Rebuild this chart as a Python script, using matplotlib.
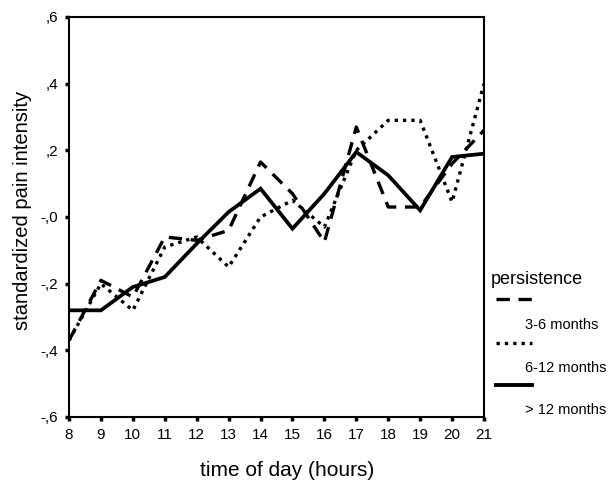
import matplotlib
matplotlib.use("Agg")
import matplotlib.pyplot as plt
from matplotlib.lines import Line2D

plt.rcParams['font.family'] = ['Liberation Sans', 'DejaVu Sans']

hours = [8, 9, 10, 11, 12, 13, 14, 15, 16, 17, 18, 19, 20, 21]
months_3_6 = [-0.37, -0.19, -0.24, -0.06, -0.07, -0.04, 0.165, 0.07, -0.075, 0.27, 0.03, 0.03, 0.16, 0.26]
months_6_12 = [-0.37, -0.20, -0.28, -0.09, -0.06, -0.15, 0.0, 0.05, -0.03, 0.20, 0.29, 0.29, 0.045, 0.40]
months_12p = [-0.28, -0.28, -0.21, -0.18, -0.08, 0.015, 0.085, -0.035, 0.07, 0.195, 0.125, 0.02, 0.18, 0.19]

series_labels = ["3-6 months", "6-12 months", "> 12 months"]
y_ticks = [-0.6, -0.4, -0.2, 0.0, 0.2, 0.4, 0.6]
y_tick_labels = ["-,6", "-,4", "-,2", "-,0", ",2", ",4", ",6"]

W, H = 608, 487
fig = plt.figure(figsize=(W / 100, H / 100), dpi=100)
ax = fig.add_axes([69 / W, 1 - 417 / H, (484 - 69) / W, (417 - 17) / H])

dash_style = (0, (4, 2.6))
dot_style = (0, (1, 1.5))
lw = 2.4

ax.plot(hours, months_3_6, color='black', lw=lw, linestyle=dash_style, solid_capstyle='butt', dash_capstyle='butt')
ax.plot(hours, months_6_12, color='black', lw=lw, linestyle=dot_style, dash_capstyle='butt')
ax.plot(hours, months_12p, color='black', lw=lw + 0.3, linestyle='-', solid_joinstyle='miter')

ax.set_xlim(8, 21)
ax.set_ylim(-0.6, 0.6)
ax.set_xticks(hours)
ax.set_xticklabels([str(h) for h in hours])
ax.set_yticks(y_ticks)
ax.set_yticklabels(y_tick_labels)
ax.tick_params(axis='both', direction='out', length=3, width=2.5, labelsize=11, pad=5)
for s in ax.spines.values():
    s.set_linewidth(1.5)

fig.text(23 / W, 1 - 210 / H, "standardized pain intensity", rotation=90,
         ha='center', va='center', fontsize=14.5)
fig.text(287 / W, 1 - 470 / H, "time of day (hours)", ha='center', va='center', fontsize=15)

# legend (outside, right)
fig.text(491 / W, 1 - 279 / H, "persistence", ha='left', va='center', fontsize=13)
handle_styles = [dict(linestyle=dash_style, lw=lw), dict(linestyle=dot_style, lw=lw), dict(linestyle='-', lw=lw + 0.4)]
handle_y = [299, 343, 385]
label_y = [325, 368, 410]
for st, hy, ly, lab in zip(handle_styles, handle_y, label_y, series_labels):
    fig.add_artist(Line2D([496 / W, 532 / W], [1 - hy / H, 1 - hy / H], color='black',
                          transform=fig.transFigure, dash_capstyle='butt', **st))
    fig.text(525 / W, 1 - ly / H, lab, ha='left', va='center', fontsize=10.5)

fig.savefig("out.png", dpi=100)
